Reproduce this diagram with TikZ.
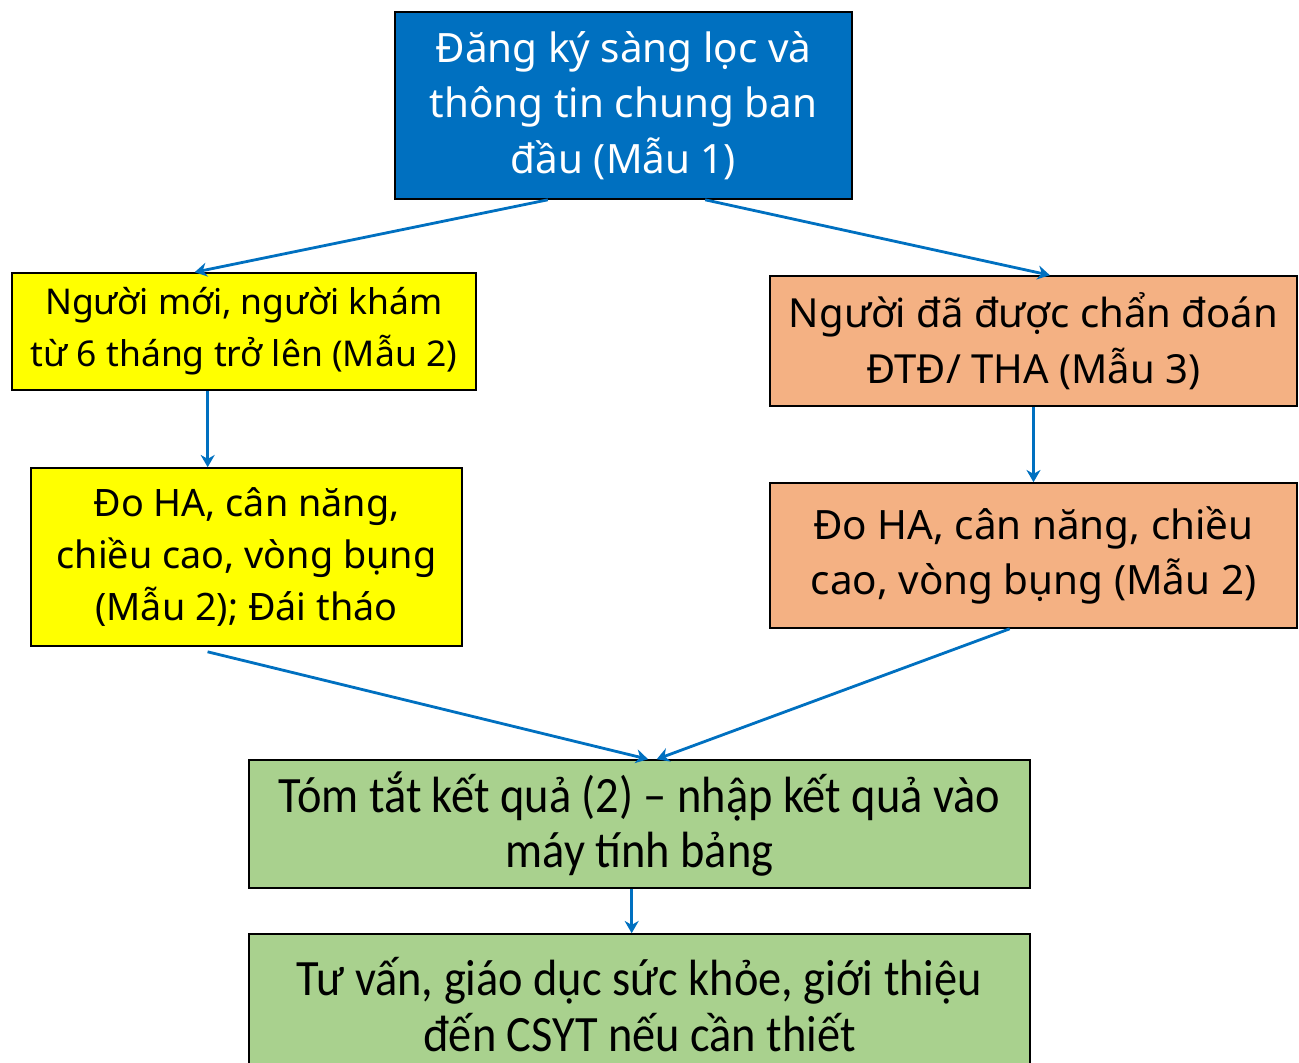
\documentclass[tikz,border=0pt]{standalone}
\usepackage{fontspec}
\setmainfont{Noto Sans}
\newfontfamily\narrowfont{Carlito}[FakeStretch=0.91]
\usepackage{tikz}
\usetikzlibrary{arrows.meta,positioning,calc}
\definecolor{boxblue}{RGB}{0,112,192}
\definecolor{boxyellow}{RGB}{255,255,0}
\definecolor{boxorange}{RGB}{244,177,131}
\definecolor{boxgreen}{RGB}{169,209,142}
\definecolor{arrowblue}{RGB}{0,112,192}

\begin{document}
\begin{tikzpicture}[
  box/.style={draw=black, line width=0.9pt, align=center, inner sep=0pt},
  flow/.style={draw=arrowblue, line width=1.6pt, -{Stealth[length=7pt,width=8pt]}}
  ]
\useasboundingbox (0,0) rectangle (25.98,-21.24);

% boxes
\node[box, fill=boxblue, text=white, minimum width=9.14cm, minimum height=3.74cm,
      font=\fontsize{23}{31.7}\selectfont] (reg) at (12.47,-2.11)
      {Đăng ký sàng lọc và\\thông tin chung ban\\đầu (Mẫu 1)};
\node[box, fill=boxyellow, minimum width=9.28cm, minimum height=2.34cm,
      font=\fontsize{20.2}{29.5}\selectfont] (new) at (4.88,-6.63)
      {Người mới, người khám\\từ 6 tháng trở lên (Mẫu 2)};
\node[box, fill=boxorange, minimum width=10.54cm, minimum height=2.6cm,
      font=\fontsize{22.8}{31.7}\selectfont] (diag) at (20.67,-6.82)
      {Người đã được chẩn đoán\\ĐTĐ/ THA (Mẫu 3)};
\node[box, fill=boxyellow, minimum width=8.62cm, minimum height=3.56cm,
      font=\fontsize{21.5}{29.5}\selectfont] (measnew) at (4.93,-11.14)
      {Đo HA, cân năng,\\chiều cao, vòng bụng\\(Mẫu 2); Đái tháo};
\node[box, fill=boxorange, minimum width=10.54cm, minimum height=2.9cm,
      font=\fontsize{23}{31.7}\selectfont] (measdiag) at (20.67,-11.11)
      {Đo HA, cân năng, chiều\\cao, vòng bụng (Mẫu 2)};
\node[box, fill=boxgreen, minimum width=15.62cm, minimum height=2.56cm,
      font=\narrowfont\fontsize{29}{31.7}\selectfont] (summ) at (12.79,-16.48)
      {Tóm tắt kết quả (2) – nhập kết quả vào\\máy tính bảng};
\node[box, fill=boxgreen, minimum width=15.62cm, minimum height=2.82cm,
      font=\narrowfont\fontsize{29}{31.7}\selectfont] (advice) at (12.79,-20.09)
      {Tư vấn, giáo dục sức khỏe, giới thiệu\\đến CSYT nếu cần thiết};

% arrows
\draw[flow] ($(reg.south west)!0.335!(reg.south east)$) -- ($(new.north west)!0.394!(new.north east)$);
\draw[flow] ($(reg.south west)!0.678!(reg.south east)$) -- ($(diag.north west)!0.531!(diag.north east)$);
\coordinate (newout) at ($(new.south west)!0.422!(new.south east)$);
\draw[flow] (newout) -- (newout |- measnew.north);
\draw[flow] (diag.south) -- (measdiag.north);
\draw[flow] ($(measnew.south west)!0.41!(measnew.south east)+(0,-0.1)$) -- ($(summ.north west)!0.511!(summ.north east)$);
\draw[flow] ($(measdiag.south west)!0.455!(measdiag.south east)$) -- ($(summ.north west)!0.522!(summ.north east)$);
\coordinate (summout) at ($(summ.south west)!0.49!(summ.south east)$);
\draw[flow] (summout) -- (summout |- advice.north);

\end{tikzpicture}
\end{document}
